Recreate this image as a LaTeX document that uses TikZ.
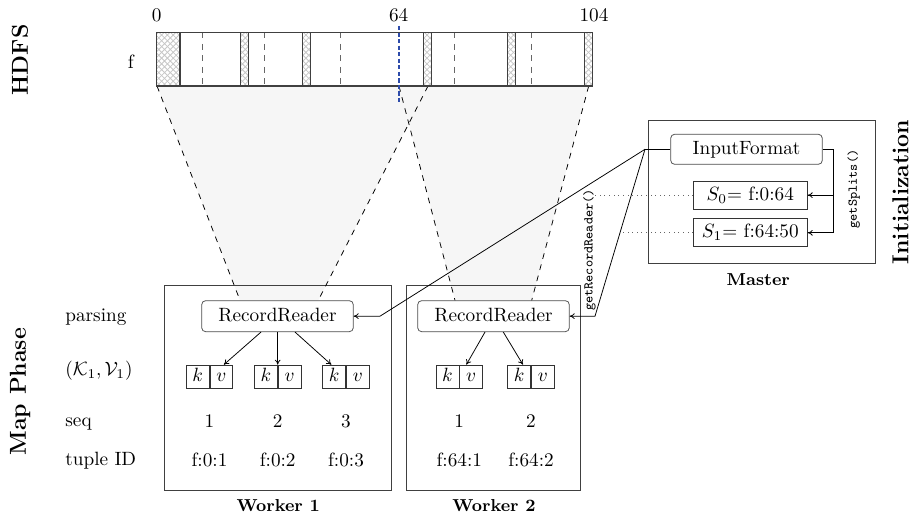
\documentclass[tikz,border=0pt]{standalone}
\usetikzlibrary{patterns,calc,arrows.meta,backgrounds}
\definecolor{splitblue}{RGB}{45,75,170}
\begin{document}
\begin{tikzpicture}[x=0.52pt,y=-0.52pt,line width=0.4pt,
  every node/.style={inner sep=0pt, text height=1.5ex, text depth=.25ex},
  barline/.style={draw=black!75, line width=0.8pt},
  hatchbox/.style={pattern=crosshatch, pattern color=black!22},
  inbar/.style={draw=black!60, dashed, line width=0.5pt},
  rr/.style={draw=black!70, rounded corners=2pt, minimum width=78.8pt, minimum height=16.1pt},
  ifbox/.style={draw=black!70, rounded corners=2pt, minimum width=78.8pt, minimum height=15.6pt},
  splitbox/.style={draw=black!80, minimum width=59.3pt, minimum height=14.6pt},
  kvs/.style={draw=black!80, minimum width=11.9pt, minimum height=12.1pt},
  frame/.style={draw=black!75, line width=0.5pt},
  trap/.style={fill=black!3.5, draw=none},
  trapline/.style={dashed, line width=0.4pt},
  arr/.style={-{To[length=2.6pt,width=3pt]}},
  phase/.style={font=\large\bfseries, rotate=90},
  boxcaption/.style={font=\small\bfseries},
  meth/.style={font=\scriptsize\ttfamily, rotate=90},
  rowlab/.style={anchor=west}]
\useasboundingbox (0,0) rectangle (915,514);

% worker and master frames
\node[frame, minimum width=117.9pt, minimum height=106.1pt] (W1) at (277.65,388) {};
\node[frame, minimum width=90.1pt, minimum height=106.1pt] (W2) at (493.35,388) {};
\node[frame, minimum width=117.9pt, minimum height=74.5pt] (M) at (761.65,191.65) {};

% record readers
\node[rr] (RR1) at (277.5,316.2) {RecordReader};
\node[rr] (RR2) at (493.5,316.2) {RecordReader};

% trapezoids (background)
\begin{scope}[on background layer]
  \fill[trap] (157,86) -- (428,86) -- ($(RR1.north)+(40.8,0)$) -- ($(RR1.north)+(-37.5,0)$) -- cycle;
  \fill[trap] (399,86) -- (588.7,86) -- ($(RR2.north)+(38.2,0)$) -- ($(RR2.north)+(-38.5,0)$) -- cycle;
\end{scope}
\draw[trapline] (157,86) -- ($(RR1.north)+(-37.5,0)$);
\draw[trapline] (428,86) -- ($(RR1.north)+(40.8,0)$);
\draw[trapline] (399,86) -- ($(RR2.north)+(-38.5,0)$);
\draw[trapline] (588.7,86) -- ($(RR2.north)+(38.2,0)$);

% HDFS file bar
\fill[white] (156.7,32.3) rectangle (592.7,86);
\foreach \a/\b in {156.7/180, 240.7/248.7, 302.3/310.3, 423.7/431.7, 507.7/515.7, 584.7/592.7}{
  \fill[hatchbox] (\a,32.3) rectangle (\b,86);
  \draw[barline] (\a,32.3) -- (\a,86) (\b,32.3) -- (\b,86);
}
\foreach \x in {202.7, 264.3, 340.3, 454.3, 531}{
  \draw[inbar] (\x,32.3) -- (\x,86);
}
\draw[barline] (156.7,32.3) rectangle (592.7,86);
\node (n0) at (156.8,16.5) {0};
\node (n64) at (398.7,16.5) {64};
\node (n104) at (594,16.5) {104};
\draw[splitblue, line width=1.1pt, dash pattern=on 2.2pt off 1.2pt] (398.7,26) -- (398.7,104);
\node (flab) at (130.7,63) {f};

% key/value pairs
\foreach \s/\n in {209.5/1, 277.7/2, 346/3, 459.3/4, 531/5}{
  \node[kvs, anchor=east] (k\n) at (\s,376.7) {$k$};
  \node[kvs, anchor=west] (v\n) at (\s,376.7) {$v$};
}
\draw[arr] ($(RR1.south)+(-16.5,0)$) -- ($(v1.north)+(2.5,0)$);
\draw[arr] (RR1.south -| k2.north east) -- (k2.north east);
\draw[arr] ($(RR1.south)+(17.5,0)$) -- ($(k3.north)+(-2.8,0)$);
\draw[arr] ($(RR2.south)+(-8.5,0)$) -- ($(v4.north)+(-4.8,0)$);
\draw[arr] ($(RR2.south)+(9.8,0)$) -- ($(k5.north)+(3.8,0)$);

% seq and tuple ids
\node (s1) at (209.5,422.7) {1};
\node (s2) at (277.7,422.7) {2};
\node (s3) at (346,422.7) {3};
\node (s4) at (459.3,422.7) {1};
\node (s5) at (531,422.7) {2};
\node (t1) at (209.5,461.7) {f:0:1};
\node (t2) at (277.7,461.7) {f:0:2};
\node (t3) at (346,461.7) {f:0:3};
\node (t4) at (459.3,461.7) {f:64:1};
\node (t5) at (531,461.7) {f:64:2};

% row labels
\node[rowlab] (lp) at (65,316) {parsing};
\node[rowlab] (lk) at (65,370) {$(\mathcal{K}_1,\mathcal{V}_1)$};
\node[rowlab] (ls) at (65,421.7) {seq};
\node[rowlab] (lt) at (65,460.5) {tuple ID};

% phase labels
\node[phase] (hdfs) at (22.7,60) {HDFS};
\node[phase] (map) at (20.7,391.7) {Map Phase};
\node[phase] (init) at (903.3,192) {Initialization};

% captions
\node[boxcaption] (c1) at (278.3,506) {Worker 1};
\node[boxcaption] (c2) at (494,506) {Worker 2};
\node[boxcaption] (cm) at (758.3,280) {Master};

% master contents
\node[ifbox] (IF) at (746.5,149.3) {InputFormat};
\node[splitbox] (S0) at (750.3,195.2) {$S_0$= f:0:64};
\node[splitbox] (S1) at (750.3,232.8) {$S_1$= f:64:50};
\coordinate (gs) at (833.6,149.3);
\draw (IF.east) -- (gs) -- (gs |- S1.east);
\draw[arr] (gs |- S1.east) -- (S1.east);
\draw[arr] (gs |- S0.east) -- (S0.east);
\node[meth] (gsl) at (851.7,189) {getSplits()};

% getRecordReader connectors
\coordinate (J) at (645,149.3);
\coordinate (b1) at (380,316.2);
\coordinate (b2) at (595,316.2);
\draw (IF.west) -- (J);
\draw[arr] (J) -- (b1) -- (RR1.east);
\draw[arr] (J) -- (b2) -- (RR2.east);
\node[meth] (grl) at (587.5,250) {getRecordReader()};

% dotted split links
\coordinate (d0) at (592,195.2);
\coordinate (d1) at (621.5,232.8);
\draw[dotted, black!60] (S0.west) -- (d0);
\draw[dotted, black!60] (S1.west) -- (d1);
\end{tikzpicture}
\end{document}
